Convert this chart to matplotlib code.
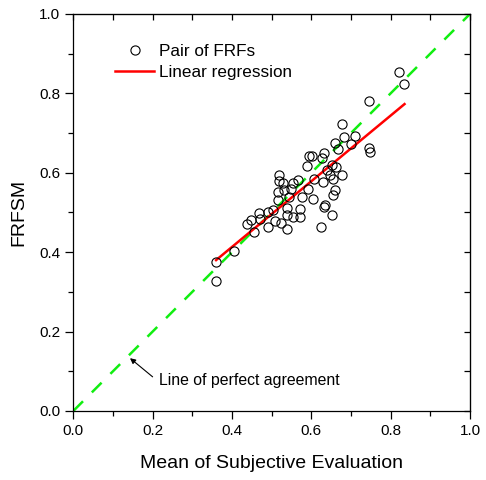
import matplotlib
matplotlib.use('Agg')
import matplotlib.pyplot as plt
from matplotlib.ticker import MultipleLocator

plt.rcParams['font.family'] = ['Liberation Sans', 'DejaVu Sans']

# Pair of FRFs: mean subjective evaluation vs FRFSM
subj = [0.821, 0.834, 0.746, 0.677, 0.683, 0.710, 0.660, 0.668, 0.699, 0.746,
        0.748, 0.632, 0.595, 0.603, 0.627, 0.588, 0.651, 0.662, 0.639, 0.677,
        0.647, 0.654, 0.519, 0.528, 0.519, 0.555, 0.567, 0.607, 0.630, 0.517,
        0.531, 0.548, 0.592, 0.605, 0.660, 0.654, 0.634, 0.632, 0.576, 0.543,
        0.517, 0.490, 0.504, 0.538, 0.571, 0.651, 0.624, 0.456, 0.437, 0.447,
        0.469, 0.471, 0.490, 0.508, 0.523, 0.539, 0.538, 0.555, 0.571, 0.406,
        0.361, 0.360]
frfsm = [0.855, 0.824, 0.782, 0.723, 0.689, 0.693, 0.674, 0.659, 0.672, 0.663,
         0.652, 0.649, 0.642, 0.641, 0.638, 0.617, 0.620, 0.615, 0.607, 0.594,
         0.594, 0.584, 0.594, 0.575, 0.580, 0.574, 0.582, 0.584, 0.578, 0.552,
         0.557, 0.560, 0.558, 0.533, 0.557, 0.544, 0.519, 0.515, 0.540, 0.538,
         0.531, 0.500, 0.507, 0.511, 0.508, 0.494, 0.464, 0.452, 0.471, 0.481,
         0.498, 0.483, 0.464, 0.479, 0.473, 0.458, 0.494, 0.489, 0.488, 0.404,
         0.376, 0.327]

# regression line end points
reg_x = [0.360, 0.835]
reg_y = [0.380, 0.773]

# line of perfect agreement
ref_x = [0.0, 1.0]
ref_y = [0.0, 1.0]

ticks = [0.0, 0.2, 0.4, 0.6, 0.8, 1.0]

fig = plt.figure(figsize=(4.86, 4.80), dpi=100)
ax = fig.add_axes([0.1508, 0.1438, 0.8162, 0.8271])

ax.plot(ref_x, ref_y, color='#11ee11', lw=1.8, dashes=(5.5, 5.0), zorder=1)
ax.plot(subj, frfsm, 'o', mfc='none', mec='black', ms=6.6, mew=0.8,
        label='Pair of FRFs', zorder=3)
ax.plot(reg_x, reg_y, color='red', lw=1.8, label='Linear regression', zorder=2)

ax.set_xlim(0, 1)
ax.set_ylim(0, 1)
ax.set_xticks(ticks)
ax.set_yticks(ticks)
ax.set_xticklabels(['%.1f' % t for t in ticks])
ax.set_yticklabels(['%.1f' % t for t in ticks])
ax.xaxis.set_minor_locator(MultipleLocator(0.1))
ax.yaxis.set_minor_locator(MultipleLocator(0.1))
ax.tick_params(which='major', direction='out', length=6, width=0.9, labelsize=11)
ax.tick_params(which='minor', direction='out', length=3.5, width=0.9)
for s in ax.spines.values():
    s.set_linewidth(0.9)

# inward ticks on top and right
top = ax.secondary_xaxis('top')
top.set_xticks(ticks)
top.xaxis.set_minor_locator(MultipleLocator(0.1))
top.tick_params(which='both', direction='in', length=4.5, width=0.9, labeltop=False)
right = ax.secondary_yaxis('right')
right.set_yticks(ticks)
right.yaxis.set_minor_locator(MultipleLocator(0.1))
right.tick_params(which='both', direction='in', length=4.5, width=0.9, labelright=False)

ax.set_xlabel('Mean of Subjective Evaluation', fontsize=14, labelpad=12)
ax.set_ylabel('FRFSM', fontsize=14, labelpad=8)

ax.legend(loc='upper left', bbox_to_anchor=(0.105, 0.925), frameon=False,
          fontsize=12.3, handlelength=2.3, handletextpad=0.3, labelspacing=0.35,
          borderpad=0, borderaxespad=0)

ax.annotate('', xy=(0.143, 0.133), xytext=(0.200, 0.086),
            arrowprops=dict(arrowstyle='-|>', color='black', lw=0.8,
                            mutation_scale=8, shrinkA=0, shrinkB=0))
ax.text(0.216, 0.077, 'Line of perfect agreement', fontsize=11.4,
        va='center', ha='left')

fig.savefig('out.png', dpi=100)
